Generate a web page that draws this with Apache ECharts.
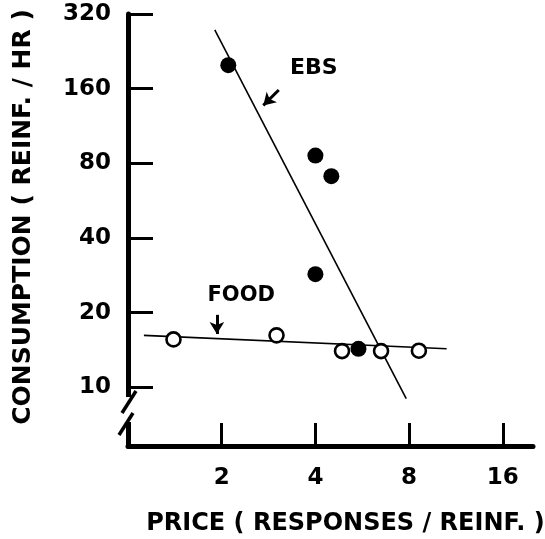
<!DOCTYPE html>
<html>
<head>
<meta charset="utf-8">
<script src="https://cdn.jsdelivr.net/npm/echarts@6/dist/echarts.min.js"></script>
<style>
  html, body { margin: 0; padding: 0; background: #ffffff; overflow: hidden; }
  #chart { width: 545px; height: 539px; }
</style>
</head>
<body>
<div id="chart"></div>
<script>
// Axis ticks (log base 2 on both axes)
const xTicks = [2, 4, 8, 16];
const yTicks = [10, 20, 40, 80, 160, 320];

// EBS reinforcement: price vs consumption (filled circles)
const ebsPrice = [2.1, 4.0, 4.5, 4.0, 5.5];
const ebsConsumption = [199, 86, 71, 28.6, 14.3];

// Food reinforcement: price vs consumption (open circles)
const foodPrice = [1.4, 3.0, 4.87, 6.5, 8.6];
const foodConsumption = [15.6, 16.2, 14.0, 14.0, 14.05];

// Fitted demand lines (end points)
const ebsFitPrice = [1.9, 7.83];
const ebsFitConsumption = [276, 9.0];
const foodFitPrice = [1.125, 10.56];
const foodFitConsumption = [16.2, 14.3];

const zip = (xs, ys) => xs.map((x, i) => [x, ys[i]]);
const FONT = '"DejaVu Sans", sans-serif';
const INK = '#000000';

const chart = echarts.init(document.getElementById('chart'), null, { renderer: 'canvas' });

const arrowLine = {
  silent: true,
  symbol: ['none', 'arrow'],
  symbolSize: [11, 12],
  label: { show: false },
  lineStyle: { color: INK, width: 3, type: 'solid', opacity: 1 },
  animation: false
};

const textMark = (coord, text, size) => ({
  coord: coord,
  symbol: 'circle',
  symbolSize: 1,
  itemStyle: { color: 'rgba(0,0,0,0)' },
  label: {
    show: true, position: 'inside', formatter: text,
    color: INK, fontFamily: FONT, fontWeight: 'bold', fontSize: size
  }
});

chart.setOption({
  animation: false,
  backgroundColor: '#ffffff',
  grid: { left: 128, right: 12, top: 14, bottom: 93, containLabel: false, outerBoundsMode: 'none' },
  xAxis: {
    type: 'log',
    logBase: 2,
    min: 1,
    max: 20,
    name: 'PRICE ( RESPONSES / REINF. )',
    nameLocation: 'middle',
    nameGap: 66,
    nameTextStyle: { color: INK, fontFamily: FONT, fontWeight: 'bold', fontSize: 24, padding: [0, 0, 0, 30] },
    axisLine: { show: true, lineStyle: { color: INK, width: 5 } },
    axisTick: { show: true, inside: true, length: 23, lineStyle: { color: INK, width: 3 }, customValues: xTicks },
    axisLabel: { color: INK, fontFamily: FONT, fontWeight: 'bold', fontSize: 23, margin: 21, customValues: xTicks },
    splitLine: { show: false },
    minorTick: { show: false }
  },
  yAxis: {
    type: 'log',
    logBase: 2,
    min: 5.8,
    max: 320,
    name: 'CONSUMPTION ( REINF. / HR )',
    nameLocation: 'middle',
    nameRotate: 90,
    nameGap: 92,
    nameTextStyle: { color: INK, fontFamily: FONT, fontWeight: 'bold', fontSize: 25, padding: [0, 0, 0, 26] },
    axisLine: { show: true, lineStyle: { color: INK, width: 5 } },
    axisTick: { show: true, inside: true, length: 25, lineStyle: { color: INK, width: 3 }, customValues: yTicks },
    axisLabel: { color: INK, fontFamily: FONT, fontWeight: 'bold', fontSize: 23, margin: 17, customValues: yTicks },
    splitLine: { show: false },
    minorTick: { show: false }
  },
  series: [
    {
      name: 'EBS fit',
      type: 'line',
      data: zip(ebsFitPrice, ebsFitConsumption),
      showSymbol: false,
      symbol: 'none',
      lineStyle: { color: INK, width: 1.6 },
      z: 2,
      markLine: Object.assign({}, arrowLine, {
        data: [[{ coord: [3.05, 158] }, { coord: [2.72, 137] }]]
      }),
      markPoint: { silent: true, data: [textMark([3.95, 194], 'EBS', 22)] }
    },
    {
      name: 'Food fit',
      type: 'line',
      data: zip(foodFitPrice, foodFitConsumption),
      showSymbol: false,
      symbol: 'none',
      lineStyle: { color: INK, width: 1.6 },
      z: 2,
      markLine: Object.assign({}, arrowLine, {
        data: [[{ coord: [1.93, 19.6] }, { coord: [1.93, 16.4] }]]
      }),
      markPoint: { silent: true, data: [textMark([2.31, 23.5], 'FOOD', 21)] }
    },
    {
      name: 'Food',
      type: 'scatter',
      data: zip(foodPrice, foodConsumption),
      symbol: 'circle',
      symbolSize: 14,
      itemStyle: { color: '#ffffff', borderColor: INK, borderWidth: 2.6, opacity: 1 },
      z: 3
    },
    {
      name: 'EBS',
      type: 'scatter',
      data: zip(ebsPrice, ebsConsumption),
      symbol: 'circle',
      symbolSize: 16,
      itemStyle: { color: INK, opacity: 1 },
      z: 4
    }
  ],
  graphic: [
    // break in the ordinate between 10 and the abscissa
    { type: 'rect', shape: { x: 117, y: 397, width: 22, height: 25 }, style: { fill: '#ffffff' }, z: 100 },
    { type: 'line', shape: { x1: 136, y1: 391, x2: 122, y2: 413 }, style: { stroke: INK, lineWidth: 3.5 }, z: 101 },
    { type: 'line', shape: { x1: 133, y1: 413, x2: 119, y2: 435 }, style: { stroke: INK, lineWidth: 3.5 }, z: 101 }
  ]
});
</script>
</body>
</html>
